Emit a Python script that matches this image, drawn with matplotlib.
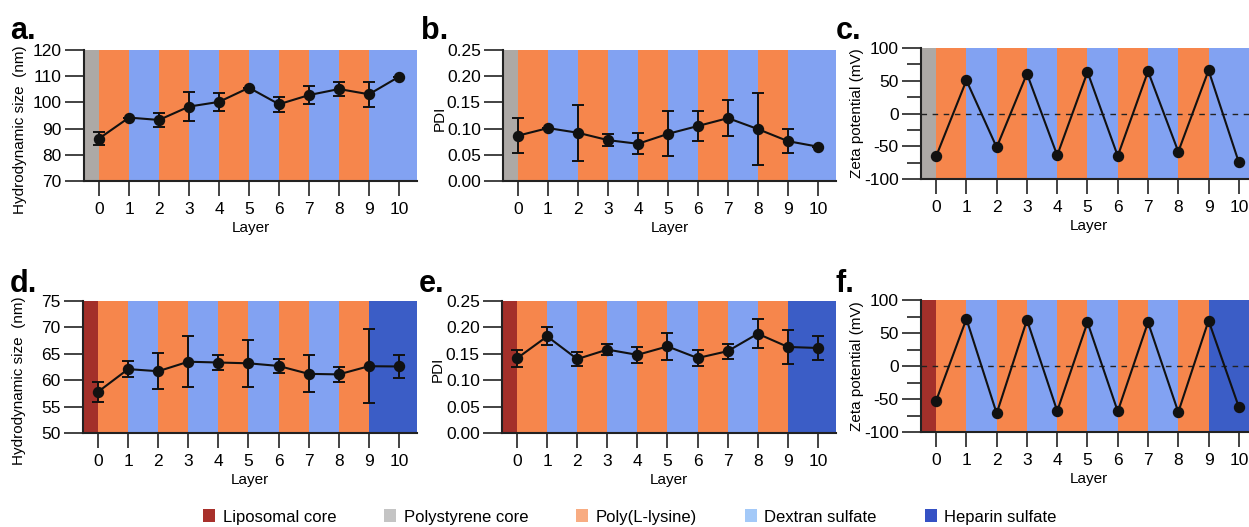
import matplotlib
matplotlib.use("Agg")
import matplotlib.pyplot as plt
from matplotlib.patches import Patch
from matplotlib.ticker import MultipleLocator

plt.rcParams['font.family'] = ['Liberation Sans', 'DejaVu Sans']
plt.rcParams['axes.unicode_minus'] = False

# ---------------- data ----------------
layers = [0, 1, 2, 3, 4, 5, 6, 7, 8, 9, 10]
x_tick_labels = ['0', '1', '2', '3', '4', '5', '6', '7', '8', '9', '10']

# layer materials (layer 0 = core)
top_materials = ['Polystyrene core', 'Poly(L-lysine)', 'Dextran sulfate', 'Poly(L-lysine)',
                 'Dextran sulfate', 'Poly(L-lysine)', 'Dextran sulfate', 'Poly(L-lysine)',
                 'Dextran sulfate', 'Poly(L-lysine)', 'Dextran sulfate']
bottom_materials = ['Liposomal core', 'Poly(L-lysine)', 'Dextran sulfate', 'Poly(L-lysine)',
                    'Dextran sulfate', 'Poly(L-lysine)', 'Dextran sulfate', 'Poly(L-lysine)',
                    'Dextran sulfate', 'Poly(L-lysine)', 'Heparin sulfate']

# a. polystyrene core - hydrodynamic size (nm)
size_ps = [86.2, 94.2, 93.3, 98.4, 100.2, 105.6, 99.3, 102.8, 105.1, 103.1, 109.8]
size_ps_err = [2.4, 0, 2.7, 5.5, 3.4, 0, 2.9, 3.3, 2.5, 4.8, 0]
# b. polystyrene core - PDI
pdi_ps = [0.0865, 0.101, 0.092, 0.078, 0.071, 0.090, 0.105, 0.120, 0.099, 0.076, 0.0655]
pdi_ps_err = [0.034, 0, 0.053, 0.011, 0.020, 0.043, 0.028, 0.035, 0.068, 0.0235, 0]
# c. polystyrene core - zeta potential (mV)
zeta_ps = [-65.4, 50.6, -51.7, 60.8, -63.9, 63.4, -64.9, 64.4, -58.3, 65.9, -74.6]

# d. liposomal core - hydrodynamic size (nm)
size_lip = [57.8, 62.1, 61.7, 63.5, 63.35, 63.2, 62.7, 61.2, 61.1, 62.65, 62.6]
size_lip_err = [1.9, 1.5, 3.4, 4.8, 1.45, 4.5, 1.3, 3.5, 1.35, 7.0, 2.2]
# e. liposomal core - PDI
pdi_lip = [0.1415, 0.183, 0.140, 0.158, 0.148, 0.164, 0.142, 0.155, 0.188, 0.163, 0.161]
pdi_lip_err = [0.016, 0.017, 0.014, 0.011, 0.0155, 0.025, 0.016, 0.0145, 0.027, 0.032, 0.023]
# f. liposomal core - zeta potential (mV)
zeta_lip = [-52.6, 71.3, -71.8, 69.8, -68.3, 66.2, -68.8, 66.2, -69.8, 68.8, -62.2]

legend_labels = ['Liposomal core', 'Polystyrene core', 'Poly(L-lysine)',
                 'Dextran sulfate', 'Heparin sulfate']

# ---------------- styles ----------------
band_colors = {
    'Liposomal core': '#A3302A',
    'Polystyrene core': '#ADA9A6',
    'Poly(L-lysine)': '#F6864C',
    'Dextran sulfate': '#82A2F2',
    'Heparin sulfate': '#3B5DC6',
}
legend_colors = {
    'Liposomal core': '#A8302B',
    'Polystyrene core': '#C4C4C4',
    'Poly(L-lysine)': '#F8AC82',
    'Dextran sulfate': '#A3C9F8',
    'Heparin sulfate': '#3551C4',
}

W, H = 1249, 527
fig = plt.figure(figsize=(W / 100, H / 100), dpi=100)

XMIN, XMAX = -0.5, 10.6


def add_axes_px(left, top, width, height):
    return fig.add_axes([left / W, (H - top - height) / H, width / W, height / H])


def draw_panel(ax, materials, y, yerr, ylim, yticks, ylabel, label_y, zero_line=False, minor=None):
    ax.set_xlim(XMIN, XMAX)
    ax.set_ylim(*ylim)
    # background bands
    for i, m in enumerate(materials):
        if i == 0:
            left, right = XMIN, layers[0]
        else:
            left = layers[i - 1]
            right = layers[i] if i < len(materials) - 1 else XMAX
        ax.axvspan(left, right, color=band_colors[m], lw=0, zorder=0)
    if zero_line:
        ax.axhline(0, color='#222222', lw=1.0, ls=(0, (4, 4)), zorder=1)
    if yerr is not None:
        ax.errorbar(layers, y, yerr=yerr, fmt='o-', color='#111111', ms=7.2, lw=1.5,
                    elinewidth=1.4, capsize=4.5, capthick=1.4, zorder=3)
    else:
        ax.plot(layers, y, 'o-', color='#111111', ms=7.2, lw=1.5, zorder=3)
    ax.set_xticks(layers)
    ax.set_xticklabels(x_tick_labels)
    ax.set_yticks(yticks)
    if minor is not None:
        ax.yaxis.set_minor_locator(MultipleLocator(minor))
        ax.tick_params(axis='y', which='minor', direction='out', length=10, width=1.2, color='#222222')
    ax.tick_params(axis='x', which='major', direction='out', length=11, width=1.2,
                   labelsize=12.5, pad=4, color='#222222')
    ax.tick_params(axis='y', which='major', direction='out', length=14, width=1.2,
                   labelsize=12.5, pad=2, color='#222222')
    for s in ['top', 'right']:
        ax.spines[s].set_visible(False)
    for s in ['left', 'bottom']:
        ax.spines[s].set_linewidth(1.5)
        ax.spines[s].set_color('#222222')
    ax.set_xlabel('Layer', fontsize=11, labelpad=3)
    ax.set_ylabel(ylabel, fontsize=11)
    ax.yaxis.set_label_coords(-0.17, label_y)


size_label = 'Hydrodynamic size  (nm)'
zeta_label = 'Zeta potential (mV)'

ax_a = add_axes_px(84, 50, 333, 131)
draw_panel(ax_a, top_materials, size_ps, size_ps_err, (70, 120),
           [70, 80, 90, 100, 110, 120], size_label, 0.39)
ax_b = add_axes_px(503, 50, 333, 131)
draw_panel(ax_b, top_materials, pdi_ps, pdi_ps_err, (0, 0.25),
           [0, 0.05, 0.10, 0.15, 0.20, 0.25], 'PDI', 0.48)
ax_b.set_yticklabels(['0.00', '0.05', '0.10', '0.15', '0.20', '0.25'])
ax_c = add_axes_px(921, 48, 336, 131)
draw_panel(ax_c, top_materials, zeta_ps, None, (-100, 100),
           [-100, -50, 0, 50, 100], zeta_label, 0.5, zero_line=True, minor=25)

ax_d = add_axes_px(83, 301, 334, 132)
draw_panel(ax_d, bottom_materials, size_lip, size_lip_err, (50, 75),
           [50, 55, 60, 65, 70, 75], size_label, 0.40)
ax_e = add_axes_px(502, 301, 334, 132)
draw_panel(ax_e, bottom_materials, pdi_lip, pdi_lip_err, (0, 0.25),
           [0, 0.05, 0.10, 0.15, 0.20, 0.25], 'PDI', 0.48)
ax_e.set_yticklabels(['0.00', '0.05', '0.10', '0.15', '0.20', '0.25'])
ax_f = add_axes_px(921, 300, 336, 132)
draw_panel(ax_f, bottom_materials, zeta_lip, None, (-100, 100),
           [-100, -50, 0, 50, 100], zeta_label, 0.5, zero_line=True, minor=25)

# panel letters
for txt, xp, yp in [('a.', 10, 39), ('b.', 421, 39), ('c.', 836, 39),
                    ('d.', 10, 292), ('e.', 419, 292), ('f.', 836, 292)]:
    fig.text(xp / W, (H - yp) / H, txt, fontsize=22, fontweight='bold', ha='left', va='baseline')

handles = [Patch(facecolor=legend_colors[l], edgecolor='none', label=l) for l in legend_labels]
fig.legend(handles=handles, loc='center', bbox_to_anchor=(630 / W, (H - 517) / H), ncol=5,
           frameon=False, fontsize=12, handlelength=0.7, handleheight=0.8,
           handletextpad=0.45, columnspacing=2.9, borderaxespad=0, borderpad=0)

fig.savefig('out.png', dpi=100)
